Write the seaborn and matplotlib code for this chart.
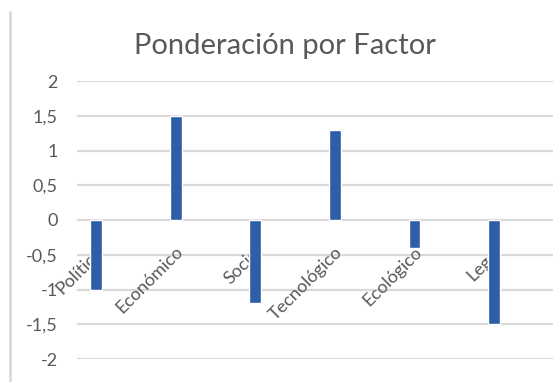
import matplotlib
matplotlib.use("Agg")
import matplotlib.pyplot as plt
import seaborn as sns
import pandas as pd
from matplotlib.lines import Line2D

# Data
factores = ["Político", "Económico", "Social", "Tecnológico", "Ecológico", "Legal"]
ponderacion = [-1.0, 1.5, -1.2, 1.3, -0.4, -1.5]
y_ticks = [-2, -1.5, -1, -0.5, 0, 0.5, 1, 1.5, 2]
y_labels = ["-2", "-1,5", "-1", "-0,5", "0", "0,5", "1", "1,5", "2"]

df = pd.DataFrame({"Factor": factores, "Valor": ponderacion})

sns.set_style("white")
plt.rcParams["font.family"] = ["Lato", "DejaVu Sans"]

fig = plt.figure(figsize=(5.59, 3.82), dpi=100)
ax = fig.add_axes([77 / 559, 23 / 382, 476 / 559, 278 / 382])

sns.barplot(data=df, x="Factor", y="Valor", color="#2f5ea8", width=0.15,
            saturation=1, ax=ax, zorder=3)

ax.set_ylim(-2, 2)
ax.set_xlim(-0.24, 5.74)
ax.set_yticks(y_ticks)
ax.set_yticklabels(y_labels, color="#595959", fontsize=13)
ax.tick_params(axis="y", length=0, pad=14)
ax.grid(axis="y", color="#d9d9d9", linewidth=1.6, zorder=0)
ax.set_axisbelow(True)
for s in ax.spines.values():
    s.set_visible(False)

# category labels sit just under the zero line, rotated, behind the bars
ax.set_xticks([])
ax.set_xlabel("")
ax.set_ylabel("")
for i, name in enumerate(factores):
    ax.text(i + 0.06, -0.42, name, rotation=45, rotation_mode="anchor",
            ha="right", va="center", fontsize=13, color="#595959", zorder=2)

fig.suptitle("Ponderación por Factor", x=0.51, y=0.88, fontsize=21,
             color="#595959", va="center")

# light chart border on the left
fig.add_artist(Line2D([10 / 559, 10 / 559], [0, 1 - 12 / 382],
                      color="#d9d9d9", linewidth=2))

fig.savefig("out.png", dpi=100)
